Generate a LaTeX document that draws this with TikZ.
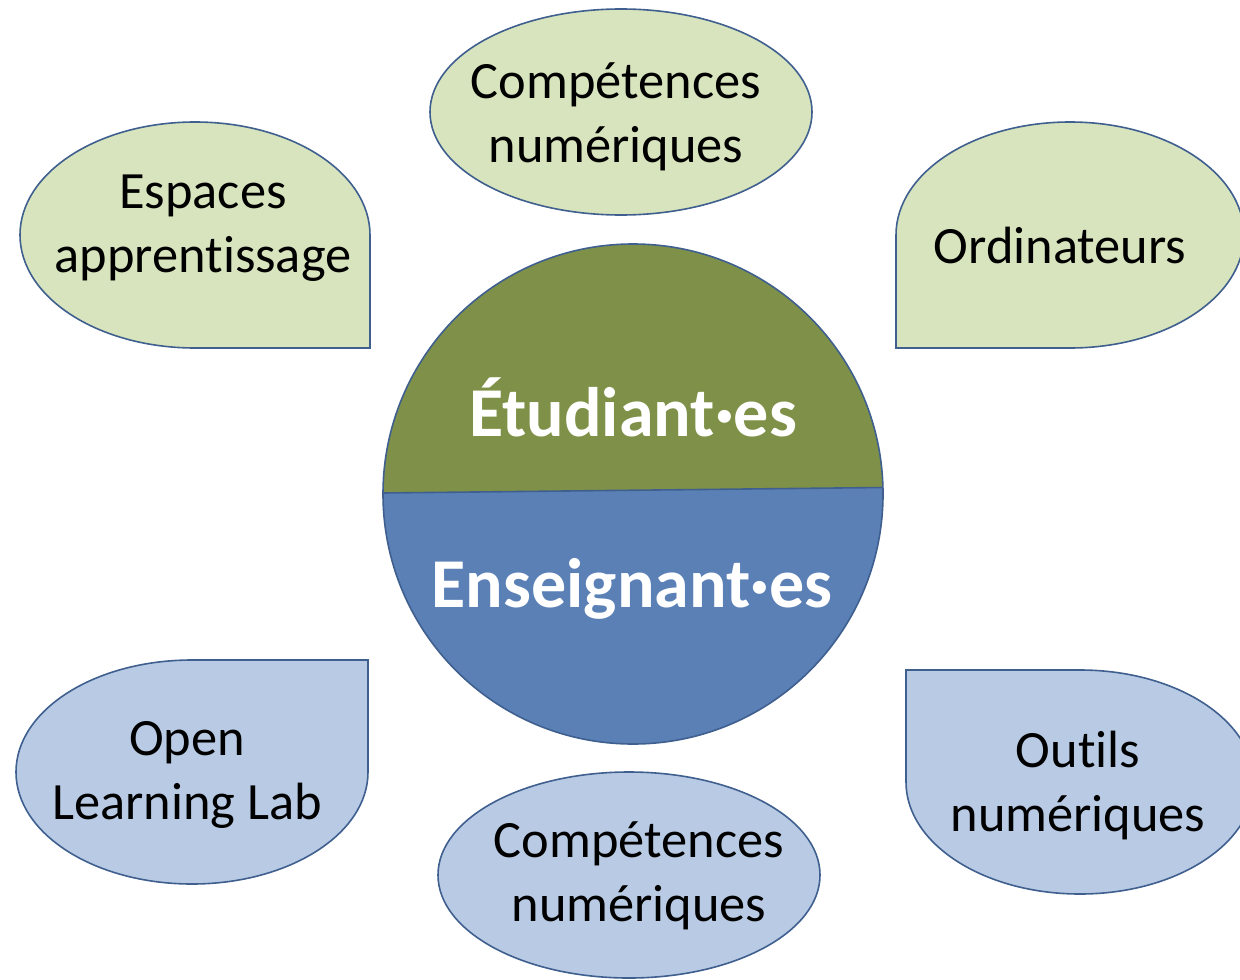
\documentclass[tikz,border=0pt]{standalone}
\usepackage{fontspec}
\setmainfont[Ligatures=NoCommon]{Carlito}
\definecolor{lgreen}{HTML}{D7E4BD}
\definecolor{lblue}{HTML}{B9CBE4}
\definecolor{bord}{HTML}{3F5F8F}
\definecolor{dgreen}{HTML}{7F9148}
\definecolor{mblue}{HTML}{5A80B6}
\tikzset{
  shapeline/.style={draw=bord, line width=0.8pt},
  lbl/.style={inner sep=0pt, align=center, font=\fontsize{26.2}{32}\selectfont},
  hublbl/.style={inner sep=0pt, text=white, font=\fontsize{35}{42}\selectfont\bfseries}
}
\begin{document}
\begin{tikzpicture}[x=0.5pt,y=-0.5pt]
\useasboundingbox (0,0) rectangle (1240,979);
\clip (0,0) rectangle (1240,979);
% central circle
\begin{scope}
  \clip (633,494) circle[radius=250];
  \fill[mblue] (383,244) rectangle (883,744);
  \fill[dgreen] (370,493) -- (896,487) -- (896,230) -- (370,230) -- cycle;
\end{scope}
\draw[shapeline] (383.2,493) -- (882.9,487.5);
\draw[shapeline] (633,494) circle[radius=250];
% ellipses
\draw[shapeline, fill=lgreen] (621,112) ellipse[x radius=191, y radius=103];
\draw[shapeline, fill=lblue] (629,875) ellipse[x radius=191, y radius=103];
% teardrops
\draw[shapeline, fill=lgreen] (370,235) -- (370,348) -- (195,348)
  arc[start angle=90, end angle=360, x radius=175, y radius=113] -- cycle;
\draw[shapeline, fill=lgreen] (896,348) -- (896,235)
  arc[start angle=180, end angle=450, x radius=174, y radius=113] -- cycle;
\draw[shapeline, fill=lblue] (368,660) -- (368,772)
  arc[start angle=0, end angle=270, x radius=176, y radius=112] -- cycle;
\draw[shapeline, fill=lblue] (906,670) -- (1080,670)
  arc[start angle=270, end angle=540, x radius=174, y radius=112] -- cycle;
% labels
\node[hublbl] (etu) at (633,407) {Étudiant·es};
\node[hublbl] (ens) at (632,589) {Enseignant·es};
\node[lbl] (comptop) at (616,117) {Compétences\\numériques};
\node[lbl] (compbot) at (639,876) {Compétences\\numériques};
\node[lbl] (esp) at (203,228) {Espaces\\apprentissage};
\node[lbl] (ordi) at (1060,245) {Ordinateurs};
\node[lbl] (oll) at (187,775) {Open\\Learning Lab};
\node[lbl] (outils) at (1078,786) {Outils\\numériques};
\end{tikzpicture}
\end{document}
